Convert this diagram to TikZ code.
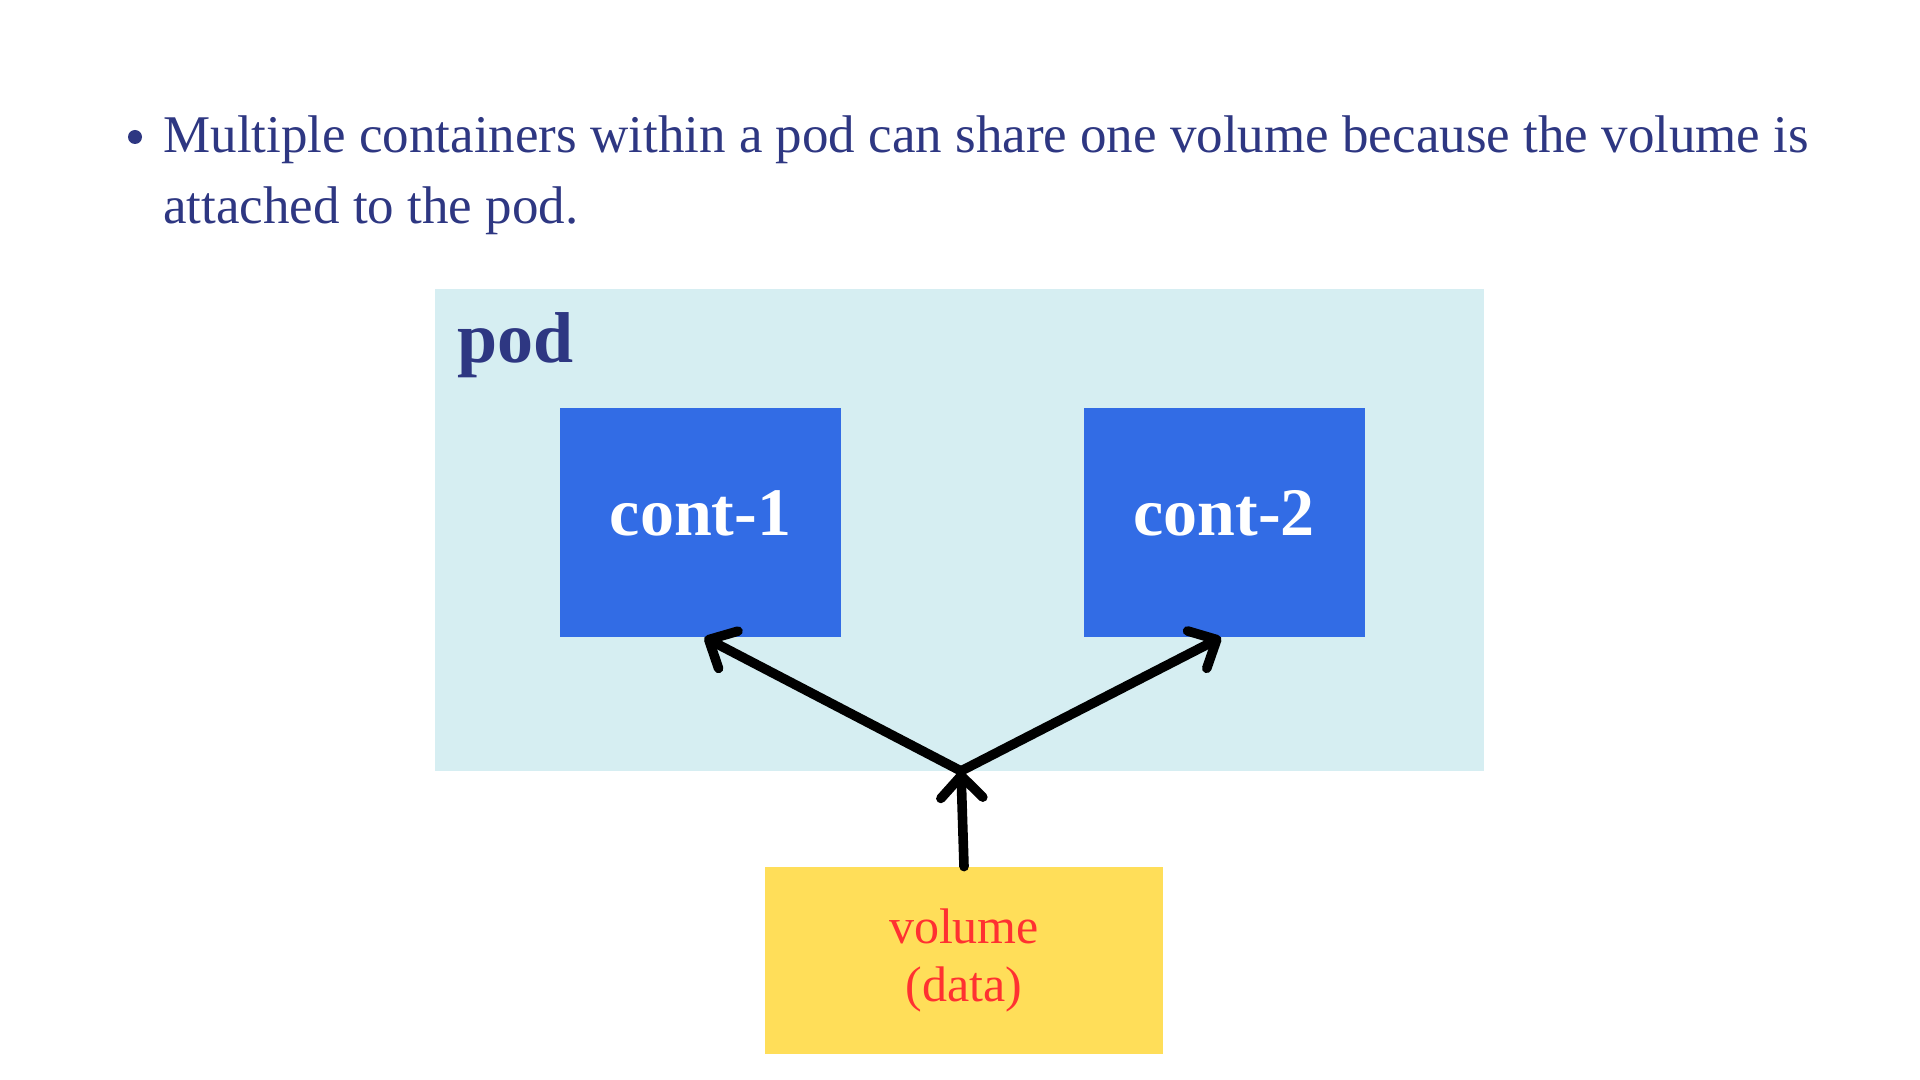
\documentclass[tikz,border=0pt]{standalone}
\usepackage{fontspec}
\setmainfont{Liberation Serif}
\usetikzlibrary{arrows.meta}
\definecolor{inkblue}{RGB}{46,55,130}
\definecolor{podbg}{RGB}{214,238,242}
\definecolor{k8sblue}{RGB}{50,108,229}
\definecolor{volyellow}{RGB}{255,222,89}
\definecolor{volred}{RGB}{255,49,49}
\tikzset{
  bodytext/.style={text=inkblue, inner sep=0pt, anchor=base west, font=\fontsize{26.5}{35.5}\selectfont},
  podbox/.style={fill=podbg, draw=none, inner sep=0pt, minimum width=524.5pt, minimum height=241pt},
  contbox/.style={fill=k8sblue, draw=none, inner sep=0pt, minimum width=140.5pt, minimum height=114.5pt},
  conttext/.style={text=white, inner sep=0pt, anchor=base, font=\bfseries\fontsize{34}{40}\selectfont},
  volbox/.style={fill=volyellow, draw=none, inner sep=0pt, minimum width=199pt, minimum height=93.5pt,
     text=volred, align=center, font=\fontsize{25}{29}\selectfont},
  share/.style={line width=4.8pt, line cap=round, -{Straight Barb[round, length=11pt, width=21pt]}}
}
\begin{document}
\begin{tikzpicture}[x=0.5pt, y=-0.5pt]
\useasboundingbox[fill=white] (0,0) rectangle (1920,1080);
% bullet text
\fill[inkblue] (135,137) circle (3.5pt);
\node[bodytext] (line1) at (163,153) {Multiple containers within a pod can share one volume because the volume is};
\node[bodytext] (line2) at (163,224) {attached to the pod.};
% pod
\node[podbox] (pod) at (959.5,530) {};
\node[text=inkblue, inner sep=0pt, anchor=base west, font=\bfseries\fontsize{36}{40}\selectfont] (podlabel) at (457,363) {pod};
% containers
\node[contbox] (cont1) at (700.5,522.5) {};
\node[conttext] (cont1text) at (700.5,535) {cont-1};
\node[contbox] (cont2) at (1224,522.5) {};
\node[conttext] (cont2text) at (1224,535) {cont-2};
% volume
\node[volbox] (vol) at (964,960.5) {volume\\(data)};
% connectors
\coordinate (J) at (961,771);
\draw[share] (vol.north) -- (J);
\draw[share] (J) -- ([xshift=2pt]cont1.south);
\draw[share] (J) -- ([xshift=-1.5pt]cont2.south);
\end{tikzpicture}
\end{document}
